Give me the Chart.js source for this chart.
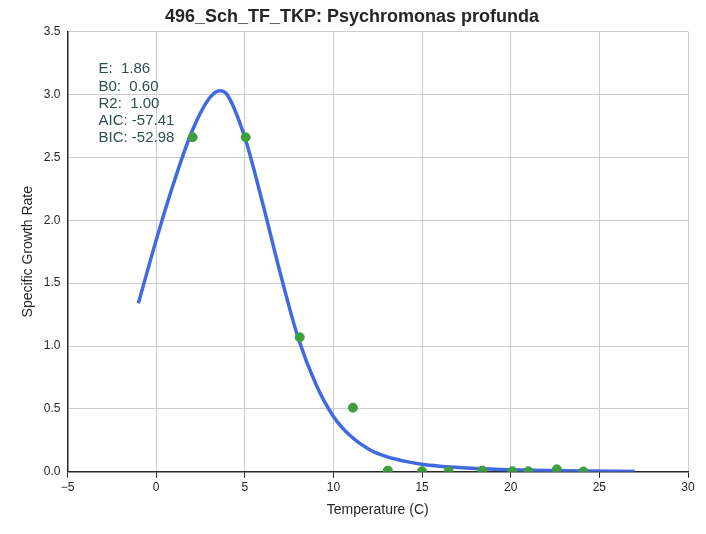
<!DOCTYPE html>
<html>
<head>
<script src="https://cdn.jsdelivr.net/npm/chart.js@4"></script>
<style>body{margin:0;background:#fff}#wrap{width:706px;height:534px}</style>
</head>
<body>
<div id="wrap"><canvas id="c"></canvas></div>
<script>
// observed data
const obsTemp = [2.06, 5.05, 8.1, 11.1, 13.07, 15.0, 16.5, 18.4, 20.1, 21.0, 22.6, 24.1];
const obsRate = [2.66, 2.66, 1.07, 0.51, 0.01, 0.005, 0.005, 0.01, 0.005, 0.005, 0.02, 0.003];
// fitted curve
const fitTemp = [-1, 0, 1, 2, 3, 3.6, 4, 5, 6, 7, 8, 9, 10, 11, 12, 13, 14, 15, 16, 17, 18, 20, 22, 24, 27];
const fitRate = [1.34, 1.84, 2.3, 2.7, 2.97, 3.03, 3.0, 2.66, 2.14, 1.58, 1.07, 0.7, 0.44, 0.28, 0.18, 0.12, 0.085, 0.06, 0.045, 0.035, 0.027, 0.017, 0.01, 0.006, 0.003];
const statLines = ["E:  1.86", "B0:  0.60", "R2:  1.00", "AIC: -57.41", "BIC: -52.98"];

const statsPlugin = {
  id: "stats",
  afterDatasetsDraw(chart) {
    const c = chart.ctx;
    const x = chart.scales.x.getPixelForValue(-3.25);
    const y0 = chart.scales.y.getPixelForValue(3.2);
    c.save();
    c.fillStyle = "#2f4f4f";
    c.font = "15px 'Liberation Sans', Arial";
    c.textBaseline = "middle";
    statLines.forEach((s, i) => c.fillText(s, x, y0 + i * 17.2));
    c.restore();
  }
};

new Chart(document.getElementById("c"), {
  type: "scatter",
  data: {
    datasets: [
      {
        data: fitTemp.map((t, i) => ({x: t, y: fitRate[i]})),
        showLine: true, cubicInterpolationMode: "monotone", borderColor: "#4169e1", borderWidth: 3.5,
        pointRadius: 0, order: 2
      },
      {
        data: obsTemp.map((t, i) => ({x: t, y: obsRate[i]})),
        backgroundColor: "#3f9f3f", borderColor: "#3f9f3f", pointRadius: 4.5, order: 1
      }
    ]
  },
  options: {
    responsive: true, maintainAspectRatio: false, animation: false,
    layout: {padding: {right: 18, top: 0, bottom: 11, left: 16}},
    plugins: {
      legend: {display: false}, tooltip: {enabled: false},
      title: {display: true, text: "496_Sch_TF_TKP: Psychromonas profunda", color: "#262626",
        font: {family: "'Liberation Sans', Arial", size: 18, weight: "bold"}, padding: {top: 6, bottom: 4}}
    },
    scales: {
      x: {
        min: -5, max: 30,
        ticks: {stepSize: 5, color: "#262626", font: {family: "'Liberation Sans', Arial", size: 12},
          callback: v => v < 0 ? "\u2212" + (-v) : v},
        grid: {color: "#cccccc", tickColor: "#262626", tickLength: 6},
        border: {color: "#262626", width: 1.5},
        title: {display: true, text: "Temperature (C)", color: "#262626", font: {family: "'Liberation Sans', Arial", size: 14}}
      },
      y: {
        min: 0, max: 3.5,
        ticks: {stepSize: 0.5, color: "#262626", font: {family: "'Liberation Sans', Arial", size: 12},
          callback: v => v.toFixed(1)},
        grid: {color: "#cccccc", tickLength: 4, tickColor: "#ffffff"},
        border: {color: "#262626", width: 1.5},
        title: {display: true, text: "Specific Growth Rate", color: "#262626", font: {family: "'Liberation Sans', Arial", size: 14}}
      }
    }
  },
  plugins: [statsPlugin]
});
</script>
</body>
</html>
